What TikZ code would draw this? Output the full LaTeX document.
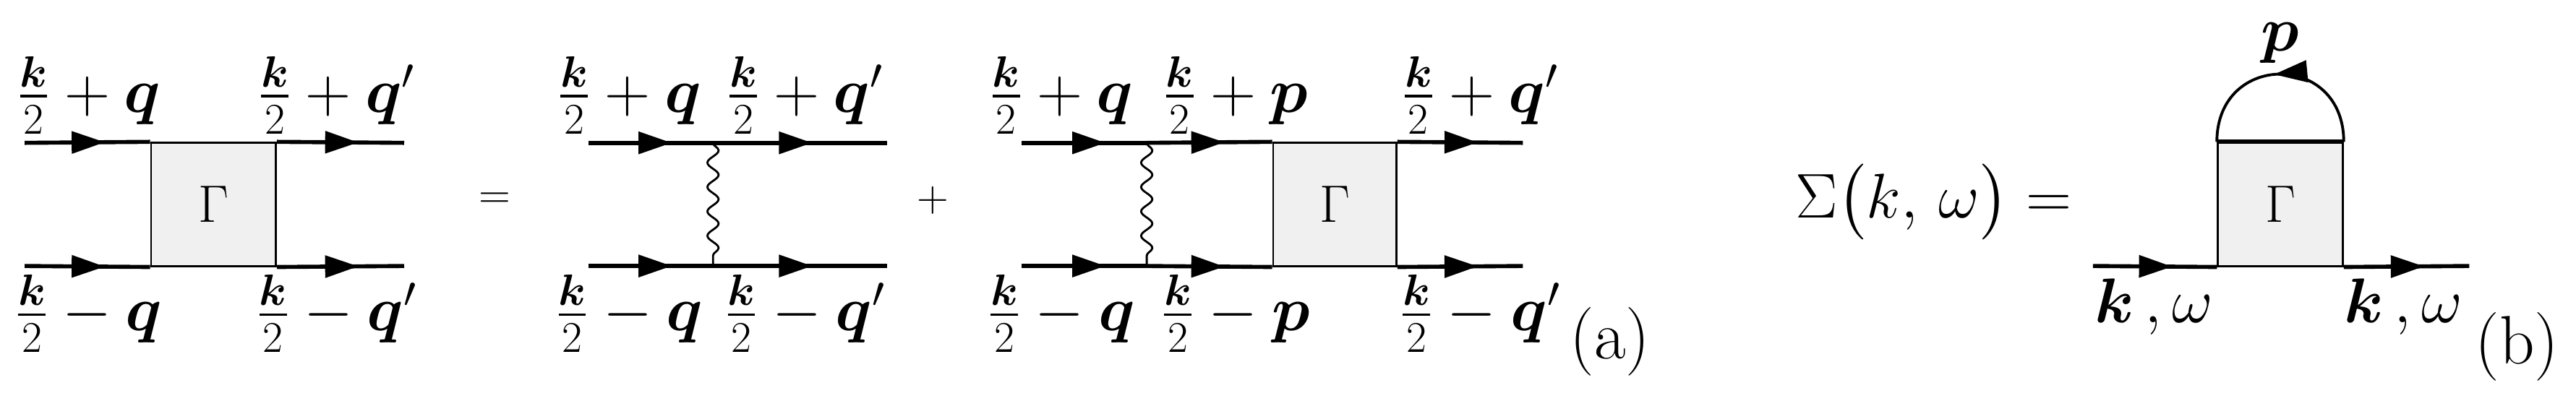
\documentclass[tikz,border=0pt]{standalone}
\usepackage{amsmath,bm}
\usetikzlibrary{decorations.pathmorphing,decorations.markings,arrows.meta}
\begin{document}
\begin{tikzpicture}[x=0.02272cm,y=0.02272cm,
  every node/.style={font=\fontsize{23}{28}\selectfont},
  big/.style={font=\fontsize{27}{32}\selectfont},
  fl/.style={line width=1.6pt},
  arr/.style={postaction={decorate},decoration={markings,mark=at position #1 with {\arrow{Triangle[length=0.46cm,width=0.3cm]}}}},
  bx/.style={draw,line width=0.8pt,fill=black!6,font=\fontsize{20}{24}\selectfont},
  wv/.style={line width=0.8pt,decorate,decoration={snake,amplitude=2.2pt,segment length=9.6pt}}]
\useasboundingbox (0,0) rectangle (1568,244);
% panel 1
\coordinate (a1) at (15,157); \coordinate (a2) at (246,157);
\coordinate (a3) at (15,82); \coordinate (a4) at (246,82);
\node[bx,minimum width=76*0.02272cm,minimum height=75*0.02272cm,inner sep=0] (G1) at (130,119.5) {$\Gamma$};
\draw[fl,arr=0.64] (a1) -- (G1.north west);
\draw[fl,arr=0.64] (G1.north east) -- (a2);
\draw[fl,arr=0.64] (a3) -- (G1.south west);
\draw[fl,arr=0.64] (G1.south east) -- (a4);
\node (l1) at (54,186) {$\frac{\bm k}{2}+\bm q$};
\node (l2) at (205,186) {$\frac{\bm k}{2}+\bm q'$};
\node (l3) at (54,53) {$\frac{\bm k}{2}-\bm q$};
\node (l4) at (205,53) {$\frac{\bm k}{2}-\bm q'$};
\node (eq) at (301,122) {\fontsize{16}{18}\selectfont$=$};
% panel 2
\coordinate (b1) at (358,157); \coordinate (b2) at (540,157);
\coordinate (b3) at (358,82); \coordinate (b4) at (540,82);
\coordinate (w1) at (434,157); \coordinate (w2) at (434,82);
\draw[fl,arr=0.67] (b1) -- (w1); \draw[fl,arr=0.57] (w1) -- (b2);
\draw[fl,arr=0.67] (b3) -- (w2); \draw[fl,arr=0.57] (w2) -- (b4);
\draw[wv] (w1) -- (w2);
\node (m1) at (383,186) {$\frac{\bm k}{2}+\bm q$};
\node (m2) at (490,186) {$\frac{\bm k}{2}+\bm q'$};
\node (m3) at (383,53) {$\frac{\bm k}{2}-\bm q$};
\node (m4) at (490,53) {$\frac{\bm k}{2}-\bm q'$};
\node (pl) at (568,122) {\fontsize{16}{18}\selectfont$+$};
% panel 3
\coordinate (c1) at (622,157); \coordinate (c2) at (927,157);
\coordinate (c3) at (622,82); \coordinate (c4) at (927,82);
\coordinate (v1) at (698,157); \coordinate (v2) at (698,82);
\node[bx,minimum width=75*0.02272cm,minimum height=75*0.02272cm,inner sep=0] (G2) at (812.5,119.5) {$\Gamma$};
\draw[fl,arr=0.67] (c1) -- (v1); \draw[fl,arr=0.62] (v1) -- (G2.north west);
\draw[fl,arr=0.67] (c3) -- (v2); \draw[fl,arr=0.62] (v2) -- (G2.south west);
\draw[fl,arr=0.64] (G2.north east) -- (c2);
\draw[fl,arr=0.64] (G2.south east) -- (c4);
\draw[wv] (v1) -- (v2);
\node (n1) at (646,186) {$\frac{\bm k}{2}+\bm q$};
\node (n2) at (752,186) {$\frac{\bm k}{2}+\bm p$};
\node (n3) at (901,186) {$\frac{\bm k}{2}+\bm q'$};
\node (n4) at (646,53) {$\frac{\bm k}{2}-\bm q$};
\node (n5) at (752,53) {$\frac{\bm k}{2}-\bm p$};
\node (n6) at (901,53) {$\frac{\bm k}{2}-\bm q'$};
\node[big] (la) at (980,36) {(a)};
% panel b
\node[big] (S) at (1177,121) {$\Sigma\big(k,\,\omega\big)=$};
\coordinate (d1) at (1274,82); \coordinate (d2) at (1503,82);
\node[bx,minimum width=76*0.02272cm,minimum height=75*0.02272cm,inner sep=0] (G3) at (1388,119.5) {$\Gamma$};
\draw[fl,arr=0.64] (d1) -- (G3.south west);
\draw[fl,arr=0.64] (G3.south east) -- (d2);
\draw[fl] (G3.north west) -- (G3.north east);
\draw[line width=1.1pt,arr=0.53] (G3.north east) .. controls +(0,55) and +(0,55) .. (G3.north west);
\node (p) at (1388,218) {$\bm p$};
\node (k1) at (1311,57) {$\bm k\,,\omega$};
\node (k2) at (1463,57) {$\bm k\,,\omega$};
\node[big] (lb) at (1532,33) {(b)};
\end{tikzpicture}
\end{document}
